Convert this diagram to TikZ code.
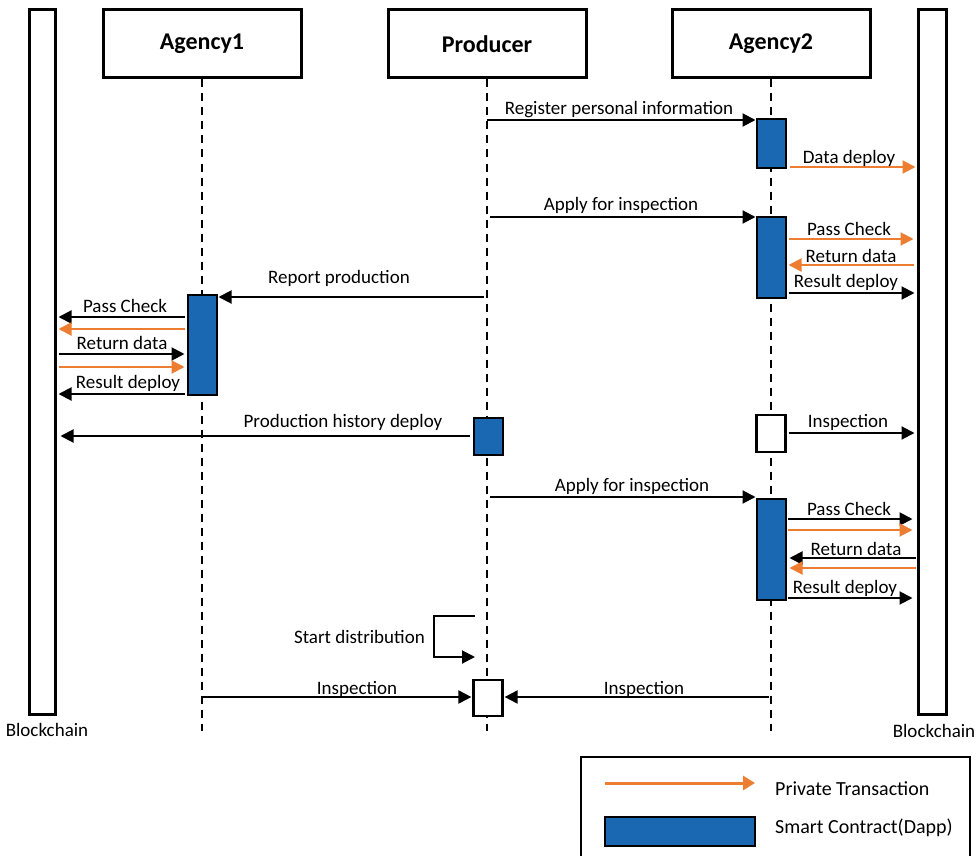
\documentclass[tikz,border=0pt]{standalone}
\usepackage{fontspec}
\setmainfont{Carlito}
\usetikzlibrary{arrows.meta}
\definecolor{scblue}{HTML}{1A68B2}
\definecolor{ptorange}{HTML}{ED7D31}
\tikzset{
  lbl/.style={font=\fontsize{19}{22}\selectfont, inner sep=0pt},
  actor/.style={draw, line width=3pt, minimum width=198pt, minimum height=68pt, inner sep=0pt, font=\fontsize{24}{28}\selectfont\bfseries},
  chain/.style={draw, line width=3pt, minimum height=704pt, inner sep=0pt},
  lifeline/.style={line width=1.6pt, dash pattern=on 8pt off 6pt},
  actbox/.style={draw, line width=2pt, fill=scblue, minimum width=29pt, inner sep=0pt, anchor=north},
  emptybox/.style={draw, line width=2.2pt, fill=white, minimum width=29pt, inner sep=0pt, anchor=north},
  msg/.style={line width=2pt, -{Triangle[length=13pt,width=13pt]}},
  pmsg/.style={msg, draw=ptorange},
}
\begin{document}
\begin{tikzpicture}[x=1pt, y=-1pt]
\useasboundingbox (0,0) rectangle (977,856);

% blockchains
\node[chain, minimum width=26pt] (BL) at (42,362) {};
\node[chain, minimum width=28pt] (BR) at (932,362) {};
\node[lbl, anchor=center] (BLt) at (47,730) {Blockchain};
\node[lbl, anchor=center] (BRt) at (934,731) {Blockchain};

% actors
\node[actor] (A1) at (202,44) {Agency1};
\node[actor] (P) at (487,44) {Producer};
\node[actor] (A2) at (771,44) {Agency2};

% lifelines
\coordinate (A1e) at (202,731);
\coordinate (Pe) at (487,731);
\coordinate (A2e) at (771,731);
\draw[lifeline] (A1.south) -- (A1e);
\draw[lifeline] (P.south) -- (Pe);
\draw[lifeline] (A2.south) -- (A2e);

% activation boxes
\node[actbox, minimum height=49pt] (X1) at (771,118) {};
\node[actbox, minimum height=81pt] (X2) at (771,216) {};
\node[actbox, minimum height=100pt] (Y1) at (202,294) {};
\node[actbox, minimum height=37pt] (Z1) at (488,417) {};
\node[emptybox, minimum height=37pt] (W1) at (771,414) {};
\node[actbox, minimum height=101pt] (X3) at (771,498) {};
\node[emptybox, minimum height=36pt] (Z2) at (488,679) {};

% messages Producer -> Agency2
\draw[msg] (P.south |- 0,120) -- (X1.west |- 0,120);
\node[lbl] (m1) at (619,110) {Register personal information};
\draw[pmsg] ([xshift=3pt]X1.east |- 0,167) -- ([xshift=-1pt]BR.west |- 0,167);
\node[lbl] (m2) at (849,158) {Data deploy};

\draw[msg] ([xshift=3pt]P.south |- 0,217) -- (X2.west |- 0,217);
\node[lbl] (m3) at (621,205) {Apply for inspection};
\draw[pmsg] ([xshift=2pt]X2.east |- 0,239) -- ([xshift=-3pt]BR.west |- 0,239);
\node[lbl] (m4) at (849,229) {Pass Check};
\draw[pmsg] ([xshift=-3pt]BR.west |- 0,265) -- ([xshift=2pt]X2.east |- 0,265);
\node[lbl] (m5) at (851,256) {Return data};
\draw[msg] ([xshift=2pt]X2.east |- 0,293) -- ([xshift=-2pt]BR.west |- 0,293);
\node[lbl] (m6) at (846,282) {Result deploy};

% Producer -> Agency1
\draw[msg] ([xshift=-3pt]P.south |- 0,297) -- ([xshift=1pt]Y1.east |- 0,297);
\node[lbl] (m7) at (339,278) {Report production};
\draw[msg] ([xshift=-2pt]Y1.west |- 0,317) -- ([xshift=2pt]BL.east |- 0,317);
\node[lbl] (m8) at (125,306) {Pass Check};
\draw[pmsg] ([xshift=-2pt]Y1.west |- 0,329) -- ([xshift=2pt]BL.east |- 0,329);
\draw[msg] ([xshift=2pt]BL.east |- 0,354) -- ([xshift=-2pt]Y1.west |- 0,354);
\node[lbl] (m9) at (122,343) {Return data};
\draw[pmsg] ([xshift=2pt]BL.east |- 0,367) -- ([xshift=-2pt]Y1.west |- 0,367);
\draw[msg] ([xshift=-2pt]Y1.west |- 0,394) -- ([xshift=2pt]BL.east |- 0,394);
\node[lbl] (m10) at (128,383) {Result deploy};

% Production history deploy
\draw[msg] ([xshift=-3pt]Z1.west |- 0,436) -- ([xshift=4pt]BL.east |- 0,436);
\node[lbl] (m11) at (343,422) {Production history deploy};
\draw[msg] ([xshift=2pt]W1.east |- 0,433) -- ([xshift=-2pt]BR.west |- 0,433);
\node[lbl] (m12) at (848,422) {Inspection};

% second inspection
\draw[msg] ([xshift=3pt]P.south |- 0,497) -- (X3.west |- 0,497);
\node[lbl] (m13) at (632,486) {Apply for inspection};
\draw[msg] ([xshift=1pt]X3.east |- 0,519) -- ([xshift=-4pt]BR.west |- 0,519);
\node[lbl] (m14) at (849,509) {Pass Check};
\draw[pmsg] ([xshift=1pt]X3.east |- 0,530) -- ([xshift=-4pt]BR.west |- 0,530);
\draw[msg] ([xshift=-1pt]BR.west |- 0,558) -- ([xshift=3pt]X3.east |- 0,558);
\node[lbl] (m15) at (856,549) {Return data};
\draw[pmsg] ([xshift=-1pt]BR.west |- 0,568) -- ([xshift=3pt]X3.east |- 0,568);
\draw[msg] ([xshift=1pt]X3.east |- 0,598) -- ([xshift=-4pt]BR.west |- 0,598);
\node[lbl] (m16) at (845,588) {Result deploy};

% Start distribution (self message)
\coordinate (sd1) at ([xshift=-12pt]P.south |- 0,616);
\coordinate (sd2) at (434,616);
\coordinate (sd3) at (434,657);
\coordinate (sd4) at ([xshift=-12pt]P.south |- 0,657);
\draw[msg] (sd1) -- (sd2) -- (sd3) -- (sd4);
\node[lbl, anchor=east] (m17) at (425,637) {Start distribution};

% final inspections
\draw[msg] (A1.south |- 0,697) -- ([xshift=-1pt]Z2.west |- 0,697);
\node[lbl] (m18) at (357,689) {Inspection};
\draw[msg] ([xshift=-2pt]A2.south |- 0,697) -- ([xshift=1pt]Z2.east |- 0,697);
\node[lbl] (m19) at (644,689) {Inspection};

% legend
\draw[line width=2pt] (581,860) -- (581,757) -- (970,757) -- (970,860);
\coordinate (lg1) at (605,783);
\coordinate (lg2) at (755,783);
\draw[pmsg, line width=3pt, -{Triangle[length=12pt,width=14pt]}] (lg1) -- (lg2);
\node[lbl, anchor=west, font=\fontsize{20}{23}\selectfont] (lt1) at (775,789) {Private Transaction};
\node[draw, line width=2pt, fill=scblue, minimum width=150pt, minimum height=29pt, inner sep=0pt] (lgbox) at (680,831) {};
\node[lbl, anchor=west, font=\fontsize{20}{23}\selectfont] (lt2) at (775,828) {Smart Contract(Dapp)};
\end{tikzpicture}
\end{document}
